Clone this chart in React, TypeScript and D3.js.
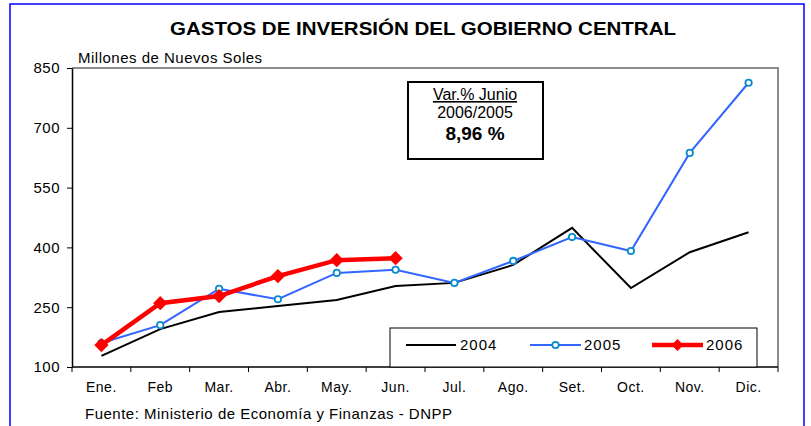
import React, { useEffect, useRef } from "react";
import * as d3 from "d3";

const months = ["Ene.", "Feb", "Mar.", "Abr.", "May.", "Jun.", "Jul.", "Ago.", "Set.", "Oct.", "Nov.", "Dic."];
const s2004 = [128, 195, 238, 253, 268, 303, 311, 356, 449, 298, 388, 438];
const s2005 = [160, 205, 296, 270, 336, 344, 311, 366, 426, 391, 637, 813];
const s2006 = [155, 260, 278, 328, 368, 373];
const yTicks = [100, 250, 400, 550, 700, 850];
const seriesNames = ["2004", "2005", "2006"];

const W = 811, H = 426;
const M = { left: 72, right: 778, top: 68, bottom: 367 };
const FONT = "'Liberation Sans', Arial, sans-serif";

export default function App() {
  const ref = useRef<SVGSVGElement>(null);
  useEffect(() => {
    const svg = d3.select(ref.current);
    svg.selectAll("*").remove();

    const x = d3.scaleBand<string>().domain(months).range([M.left, M.right]);
    const y = d3.scaleLinear().domain([100, 850]).range([M.bottom, M.top]);
    const cx = (i: number) => (x(months[i]) as number) + x.bandwidth() / 2;

    // outer blue frame
    svg.append("rect").attr("x", 10).attr("y", 4).attr("width", 794).attr("height", 440)
      .attr("fill", "white").attr("stroke", "#0000ff").attr("stroke-width", 1.5);

    // title
    svg.append("text").attr("x", 423).attr("y", 35).attr("text-anchor", "middle")
      .attr("font-family", FONT).attr("font-weight", "bold").attr("font-size", 19)
      .attr("textLength", 506).attr("lengthAdjust", "spacingAndGlyphs")
      .text("GASTOS DE INVERSIÓN DEL GOBIERNO CENTRAL");

    svg.append("text").attr("x", 78).attr("y", 63).attr("font-family", FONT).attr("font-size", 15)
      .attr("letter-spacing", 0.5).text("Millones de Nuevos Soles");

    // plot area border (top/right grey)
    svg.append("path").attr("d", `M${M.left},${M.top}H${M.right}V${M.bottom}`)
      .attr("fill", "none").attr("stroke", "#8c8c8c").attr("stroke-width", 2);

    // y axis
    const ya = svg.append("g").attr("transform", `translate(${M.left},0)`)
      .call(d3.axisLeft(y).tickValues(yTicks).tickSize(5).tickPadding(7).tickSizeOuter(0));
    ya.select(".domain").attr("stroke", "#000").attr("stroke-width", 1.5);
    ya.selectAll("text").attr("font-family", FONT).attr("font-size", 15).attr("letter-spacing", 0.5).attr("fill", "#000");

    // x axis with ticks at band boundaries
    const xa = svg.append("g").attr("transform", `translate(0,${M.bottom})`);
    xa.append("line").attr("x1", M.left).attr("x2", M.right).attr("stroke", "#000").attr("stroke-width", 1.5);
    const bounds = months.map((m) => x(m) as number).concat([M.right]);
    xa.selectAll("line.tk").data(bounds).join("line").attr("class", "tk")
      .attr("x1", (d) => d).attr("x2", (d) => d).attr("y1", 0).attr("y2", 5).attr("stroke", "#000");
    xa.selectAll("text").data(months).join("text")
      .attr("x", (_, i) => cx(i)).attr("y", 25).attr("text-anchor", "middle")
      .attr("font-family", FONT).attr("font-size", 14).attr("letter-spacing", 0.5).text((d) => d);

    const line = d3.line<number>().x((_, i) => cx(i)).y((d) => y(d));

    // 2004
    svg.append("path").attr("d", line(s2004)).attr("fill", "none").attr("stroke", "#000").attr("stroke-width", 2);
    // 2005
    svg.append("path").attr("d", line(s2005)).attr("fill", "none").attr("stroke", "#3366ff").attr("stroke-width", 2);
    svg.selectAll("circle.p5").data(s2005).join("circle").attr("class", "p5")
      .attr("cx", (_, i) => cx(i)).attr("cy", (d) => y(d)).attr("r", 3.2)
      .attr("fill", "white").attr("stroke", "#0a8ccc").attr("stroke-width", 1.8);
    // 2006
    svg.append("path").attr("d", line(s2006)).attr("fill", "none").attr("stroke", "#ff0000").attr("stroke-width", 4.5);
    const diamond = d3.symbol().type(d3.symbolDiamond2).size(130);
    svg.selectAll("path.p6").data(s2006).join("path").attr("class", "p6")
      .attr("d", diamond() as string)
      .attr("transform", (d, i) => `translate(${cx(i)},${y(d)})`)
      .attr("fill", "#ff0000");

    // legend
    const lg = svg.append("g");
    lg.append("rect").attr("x", 390).attr("y", 328).attr("width", 367).attr("height", 39)
      .attr("fill", "white").attr("stroke", "#000").attr("stroke-width", 1);
    const items = [
      { x1: 406, x2: 456, tx: 460, color: "#000", w: 2 },
      { x1: 530, x2: 581, tx: 584, color: "#3366ff", w: 2 },
      { x1: 652, x2: 703, tx: 706, color: "#ff0000", w: 4.5 },
    ];
    items.forEach((it, k) => {
      lg.append("line").attr("x1", it.x1).attr("x2", it.x2).attr("y1", 345).attr("y2", 345)
        .attr("stroke", it.color).attr("stroke-width", it.w);
      if (k === 1) {
        lg.append("circle").attr("cx", (it.x1 + it.x2) / 2).attr("cy", 345).attr("r", 3.2)
          .attr("fill", "white").attr("stroke", "#0a8ccc").attr("stroke-width", 1.8);
      }
      if (k === 2) {
        lg.append("path").attr("d", d3.symbol().type(d3.symbolDiamond2).size(90)() as string)
          .attr("transform", `translate(${(it.x1 + it.x2) / 2},345)`).attr("fill", "#ff0000");
      }
      lg.append("text").attr("x", it.tx).attr("y", 350).attr("font-family", FONT).attr("font-size", 15)
        .attr("letter-spacing", 1).text(seriesNames[k]);
    });

    // annotation box
    const ab = svg.append("g");
    ab.append("rect").attr("x", 408).attr("y", 82).attr("width", 135).attr("height", 77)
      .attr("fill", "white").attr("stroke", "#000").attr("stroke-width", 2);
    ab.append("text").attr("x", 475).attr("y", 100).attr("text-anchor", "middle").attr("font-family", FONT)
      .attr("font-size", 16).attr("text-decoration", "underline").text("Var.% Junio");
    ab.append("text").attr("x", 475).attr("y", 118).attr("text-anchor", "middle").attr("font-family", FONT)
      .attr("font-size", 16).text("2006/2005");
    ab.append("text").attr("x", 475).attr("y", 140).attr("text-anchor", "middle").attr("font-family", FONT)
      .attr("font-size", 19).attr("font-weight", "bold").text("8,96 %");

    // source
    svg.append("text").attr("x", 85).attr("y", 419).attr("font-family", FONT).attr("font-size", 15)
      .attr("letter-spacing", 0.5).text("Fuente: Ministerio de Economía y Finanzas - DNPP");
  }, []);

  return (
    <div style={{ position: "fixed", left: 0, top: 0 }}>
      <svg ref={ref} width={W} height={H} style={{ display: "block", background: "white" }} />
    </div>
  );
}
